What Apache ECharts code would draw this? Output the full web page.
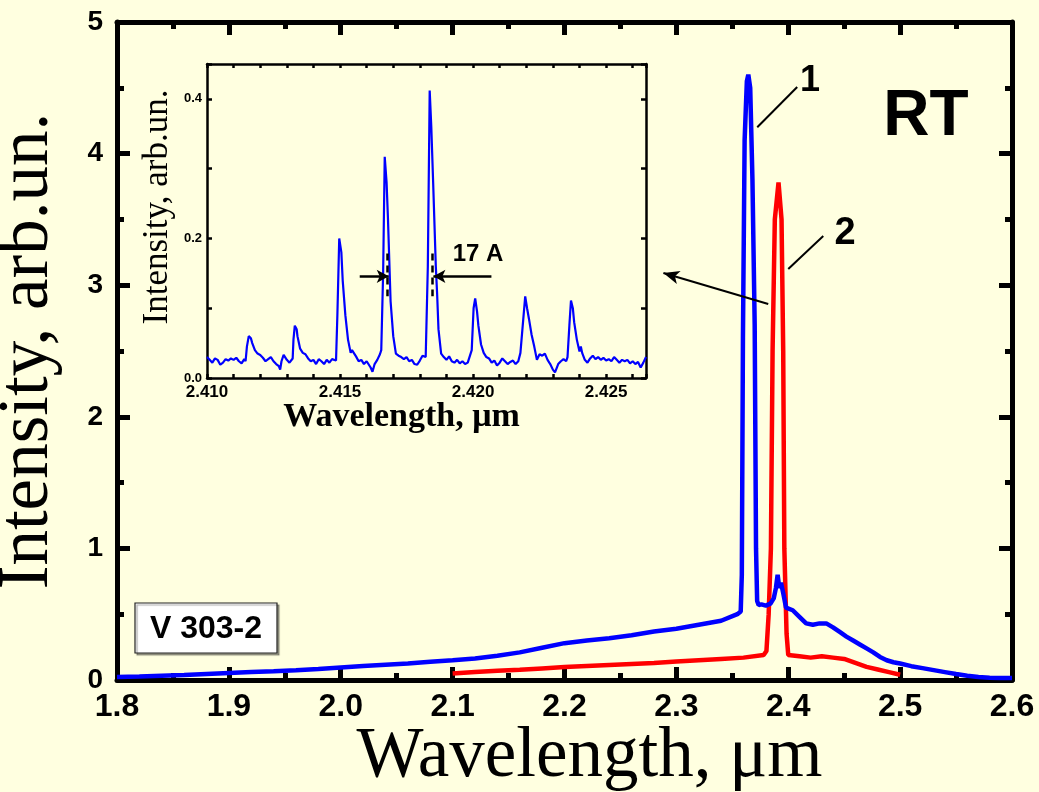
<!DOCTYPE html>
<html lang="en">
<head>
  <meta charset="UTF-8">
  <title>Spectrum V 303-2</title>
  <style>
    html, body { margin: 0; padding: 0; background-color: #ffffe0; }
  </style>
  <script src="https://cdn.jsdelivr.net/npm/echarts@6/dist/echarts.min.js"></script>
</head>
<body>
<div id="chart" style="width: 1039px; height: 792px;"></div>
<script>
  // main spectrum, curve 1 (blue)
  const wavelength1 = [1.80, 1.82, 1.84, 1.86, 1.88, 1.90, 1.92, 1.94, 1.96, 1.98, 2.00, 2.02, 2.04, 2.06, 2.08,
    2.10, 2.12, 2.14, 2.16, 2.18, 2.20, 2.22, 2.24, 2.26, 2.28, 2.30, 2.32, 2.34, 2.3545, 2.3575, 2.3585,
    2.3595, 2.3610, 2.3630, 2.3643, 2.3660, 2.3680, 2.3700, 2.3712, 2.3722, 2.3735, 2.3760, 2.3800, 2.3840,
    2.3870, 2.3890, 2.3905, 2.3920, 2.3935, 2.3955, 2.3980, 2.4040, 2.4100, 2.4160, 2.4220, 2.4280, 2.4340,
    2.4400, 2.4460, 2.4520, 2.4580, 2.4640, 2.4700, 2.4760, 2.4820, 2.4880, 2.4940, 2.5000, 2.5100, 2.5200,
    2.5300, 2.5400, 2.5500, 2.5600, 2.5700, 2.5800, 2.5900, 2.6000]
  const intensity1 = [0.022, 0.026, 0.032, 0.038, 0.046, 0.053, 0.060, 0.066, 0.074, 0.084, 0.095, 0.106, 0.116, 0.126, 0.138,
    0.150, 0.163, 0.185, 0.210, 0.245, 0.280, 0.300, 0.318, 0.340, 0.368, 0.390, 0.420, 0.450, 0.500, 0.520, 0.800,
    2.600, 4.100, 4.550, 4.600, 4.500, 3.800, 2.700, 1.000, 0.600, 0.570, 0.575, 0.565, 0.580,
    0.620, 0.700, 0.800, 0.700, 0.740, 0.660, 0.550, 0.530, 0.480, 0.430, 0.420, 0.430, 0.430,
    0.400, 0.365, 0.330, 0.300, 0.270, 0.240, 0.210, 0.175, 0.150, 0.135, 0.125, 0.105, 0.090,
    0.075, 0.060, 0.045, 0.032, 0.022, 0.018, 0.015, 0.015]

  // main spectrum, curve 2 (red)
  const wavelength2 = [2.10, 2.12, 2.14, 2.16, 2.18, 2.20, 2.22, 2.24, 2.26, 2.28, 2.30, 2.32, 2.34, 2.36, 2.378,
    2.3805, 2.3825, 2.3845, 2.3860, 2.3880, 2.3913, 2.3940, 2.3955, 2.3965, 2.3985, 2.4000, 2.4100, 2.4200,
    2.4300, 2.4400, 2.4500, 2.4600, 2.4700, 2.4800, 2.4900, 2.5000]
  const intensity2 = [0.050, 0.060, 0.070, 0.078, 0.088, 0.098, 0.106, 0.114, 0.122, 0.130, 0.140, 0.150, 0.160, 0.170, 0.190,
    0.220, 0.500, 1.000, 2.500, 3.500, 3.780, 3.500, 2.500, 1.000, 0.350, 0.190, 0.180, 0.170,
    0.180, 0.170, 0.160, 0.130, 0.100, 0.080, 0.060, 0.040]

  // inset: mode structure of curve 1
  const insetWavelength = [2.4100, 2.4101, 2.4102, 2.4103, 2.4104, 2.4105, 2.4106, 2.4107, 2.4108, 2.4109, 2.4110,
    2.4111, 2.4112, 2.4113, 2.4114, 2.41145, 2.4115, 2.41157, 2.41165, 2.4117, 2.4118, 2.4119, 2.4120,
    2.4121, 2.4122, 2.4123, 2.4124, 2.4125, 2.4126, 2.4127, 2.41275, 2.4128, 2.41288, 2.4130, 2.4131,
    2.41322, 2.41325, 2.41330, 2.41337, 2.4134, 2.4135, 2.4136, 2.4137, 2.4138, 2.4139, 2.4140, 2.4141,
    2.4142, 2.4143, 2.4144, 2.4145, 2.4146, 2.4147, 2.41485, 2.41490, 2.41497, 2.41505, 2.4151, 2.4152,
    2.4153, 2.4154, 2.41545, 2.4155, 2.4156, 2.4157, 2.4158, 2.4159, 2.4160, 2.41615, 2.41622, 2.4163,
    2.4164, 2.4165, 2.41655, 2.41662, 2.41668, 2.41675, 2.4168, 2.4169, 2.4170, 2.4171, 2.4172, 2.4173,
    2.4174, 2.4175, 2.4176, 2.4177, 2.4178, 2.4179, 2.4180, 2.4181, 2.41822, 2.41830, 2.41837, 2.41843,
    2.4185, 2.4186, 2.41865, 2.4187, 2.4188, 2.4189, 2.4190, 2.4191, 2.4192, 2.4193, 2.4194, 2.4195,
    2.4196, 2.4197, 2.4198, 2.41995, 2.42002, 2.42008, 2.42015, 2.4202, 2.4203, 2.4204, 2.4205, 2.4206,
    2.4207, 2.4208, 2.4209, 2.4210, 2.4211, 2.4212, 2.4213, 2.4214, 2.4215, 2.4216, 2.4217, 2.42178,
    2.42185, 2.4219, 2.42196, 2.42203, 2.4221, 2.4222, 2.4223, 2.4224, 2.42245, 2.4225, 2.4226, 2.4227,
    2.4228, 2.4229, 2.4230, 2.42308, 2.4232, 2.4233, 2.4234, 2.4235, 2.42355, 2.42362, 2.42368, 2.42375,
    2.4238, 2.4239, 2.4240, 2.42405, 2.4241, 2.4242, 2.4243, 2.4244, 2.4245, 2.4246, 2.4247, 2.4248,
    2.4249, 2.4250, 2.4251, 2.4252, 2.4253, 2.4254, 2.4255, 2.4256, 2.4257, 2.4258, 2.4259, 2.4260,
    2.4261, 2.4262, 2.4263, 2.4264, 2.4265]
  const insetIntensity = [0.030, 0.026, 0.022, 0.028, 0.026, 0.019, 0.022, 0.027, 0.025, 0.028, 0.026,
    0.029, 0.024, 0.021, 0.027, 0.024, 0.045, 0.060, 0.057, 0.050, 0.040, 0.035, 0.033,
    0.029, 0.024, 0.027, 0.030, 0.024, 0.020, 0.017, 0.012, 0.024, 0.033, 0.026, 0.022,
    0.028, 0.055, 0.075, 0.070, 0.060, 0.042, 0.036, 0.034, 0.028, 0.024, 0.026, 0.020,
    0.027, 0.024, 0.020, 0.026, 0.022, 0.027, 0.025, 0.090, 0.200, 0.180, 0.140, 0.090,
    0.055, 0.036, 0.040, 0.038, 0.031, 0.024, 0.026, 0.020, 0.024, 0.015, 0.009, 0.020,
    0.026, 0.034, 0.040, 0.150, 0.317, 0.280, 0.230, 0.110, 0.060, 0.035, 0.032, 0.030,
    0.027, 0.030, 0.024, 0.026, 0.020, 0.019, 0.025, 0.032, 0.030, 0.160, 0.412, 0.360,
    0.280, 0.160, 0.120, 0.070, 0.035, 0.030, 0.026, 0.031, 0.024, 0.022, 0.026, 0.021,
    0.024, 0.020, 0.022, 0.040, 0.100, 0.114, 0.095, 0.075, 0.048, 0.036, 0.030, 0.028,
    0.022, 0.025, 0.018, 0.022, 0.028, 0.024, 0.020, 0.023, 0.025, 0.020, 0.024, 0.036,
    0.036, 0.090, 0.117, 0.100, 0.085, 0.062, 0.045, 0.026, 0.030, 0.034, 0.032, 0.035,
    0.026, 0.020, 0.012, 0.008, 0.020, 0.024, 0.027, 0.024, 0.030, 0.075, 0.111, 0.100,
    0.080, 0.055, 0.038, 0.045, 0.036, 0.026, 0.022, 0.028, 0.032, 0.027, 0.030, 0.026,
    0.029, 0.025, 0.027, 0.024, 0.030, 0.026, 0.022, 0.026, 0.024, 0.026, 0.021, 0.024,
    0.020, 0.023, 0.015, 0.022, 0.030]

  const zip = (xs, ys) => xs.map((x, i) => [x, ys[i]])

  const SANS = '"Liberation Sans", Arial, sans-serif'
  const SERIF = '"Liberation Serif", "Times New Roman", serif'
  const BG = '#ffffe0'

  // one axis of a closed box; mirrored axes get ticks but no labels
  function boxAxis(opts) {
    const lw = opts.lineWidth
    return {
      type: 'value',
      gridIndex: opts.grid,
      position: opts.position,
      min: opts.min,
      max: opts.max,
      interval: opts.interval,
      scale: true,
      axisLine: { show: true, onZero: false, lineStyle: { color: '#000', width: lw } },
      axisTick: { show: true, inside: true, length: opts.tickLen, lineStyle: { color: '#000', width: lw } },
      minorTick: opts.minor
        ? { show: true, splitNumber: opts.minor, length: opts.minorLen, lineStyle: { color: '#000', width: lw } }
        : { show: false },
      splitLine: { show: false },
      minorSplitLine: { show: false },
      axisLabel: opts.label ? opts.label : { show: false },
      name: opts.name || '',
      nameLocation: 'middle',
      nameGap: opts.nameGap || 0,
      nameMoveOverlap: false,
      nameTextStyle: opts.nameStyle || {}
    }
  }

  const mainXLabel = {
    show: true, margin: 11, color: '#000', fontFamily: SANS, fontWeight: 'bold', fontSize: 32,
    formatter: v => v.toFixed(1)
  }
  const mainYLabel = {
    show: true, margin: 14, color: '#000', fontFamily: SANS, fontWeight: 'bold', fontSize: 28,
    formatter: v => v.toFixed(0)
  }
  const insetXLabel = {
    show: true, margin: 6, interval: 0, color: '#000', fontFamily: SANS, fontWeight: 'bold', fontSize: 17,
    formatter: v => (Math.abs(v * 1000 - Math.round(v * 200) * 5) < 1e-6 ? v.toFixed(3) : '')
  }
  const insetYLabel = {
    show: true, margin: 5, interval: 0, color: '#000', fontFamily: SANS, fontWeight: 'bold', fontSize: 13,
    formatter: v => (Math.abs(v * 10 - Math.round(v * 5) * 2) < 1e-6 ? v.toFixed(1) : '')
  }

  const mainX = { grid: 0, min: 1.8, max: 2.6, interval: 0.1, lineWidth: 5, tickLen: 13, minor: 2, minorLen: 7 }
  const mainY = { grid: 0, min: 0, max: 5, interval: 1, lineWidth: 5, tickLen: 13, minor: 2, minorLen: 7 }
  const insetX = { grid: 1, min: 2.41, max: 2.4265, interval: 0.001, lineWidth: 2.5, tickLen: 4 }
  const insetY = { grid: 1, min: 0, max: 0.45, interval: 0.1, lineWidth: 2.5, tickLen: 5 }

  const chart = echarts.init(document.getElementById('chart'))

  const option = {
    backgroundColor: BG,
    animation: false,
    grid: [
      { left: 117, top: 22, width: 895, height: 658, outerBoundsMode: 'none', containLabel: false },
      { left: 207, top: 64, width: 439, height: 314, outerBoundsMode: 'none', containLabel: false }
    ],
    xAxis: [
      boxAxis(Object.assign({}, mainX, {
        position: 'bottom', label: mainXLabel,
        name: 'Wavelength, μm', nameGap: 42,
        nameStyle: { fontFamily: SERIF, fontSize: 71, color: '#000', padding: [0, 0, 0, 50] }
      })),
      boxAxis(Object.assign({}, mainX, { position: 'top' })),
      boxAxis(Object.assign({}, insetX, {
        position: 'bottom', label: insetXLabel,
        name: 'Wavelength, μm', nameGap: 22,
        nameStyle: { fontFamily: SERIF, fontSize: 34, fontWeight: 'bold', color: '#000', padding: [0, 50, 0, 0] }
      })),
      boxAxis(Object.assign({}, insetX, { position: 'top' }))
    ],
    yAxis: [
      boxAxis(Object.assign({}, mainY, {
        position: 'left', label: mainYLabel,
        name: 'Intensity, arb.un.', nameGap: 53,
        nameStyle: { fontFamily: SERIF, fontSize: 71, color: '#000' }
      })),
      boxAxis(Object.assign({}, mainY, { position: 'right' })),
      boxAxis(Object.assign({}, insetY, {
        position: 'left', label: insetYLabel,
        name: 'Intensity, arb.un.', nameGap: 32,
        nameStyle: { fontFamily: SERIF, fontSize: 35, color: '#000', padding: [0, 0, 0, 28] }
      })),
      boxAxis(Object.assign({}, insetY, { position: 'right' }))
    ],
    series: [
      {
        name: '2',
        type: 'line',
        xAxisIndex: 0,
        yAxisIndex: 0,
        data: zip(wavelength2, intensity2),
        showSymbol: false,
        lineStyle: { color: '#ff0000', width: 4.5 },
        z: 2,
        markLine: {
          silent: true,
          symbol: ['none', 'none'],
          label: { show: false },
          lineStyle: { color: '#000', width: 2, type: 'solid' },
          data: [
            [{ coord: [2.4000, 3.123] }, { coord: [2.4313, 3.374] }]
          ]
        }
      },
      {
        name: '1',
        type: 'line',
        xAxisIndex: 0,
        yAxisIndex: 0,
        data: zip(wavelength1, intensity1),
        showSymbol: false,
        lineStyle: { color: '#0000ff', width: 4.5 },
        z: 3,
        markLine: {
          silent: true,
          symbol: ['none', 'none'],
          label: { show: false },
          lineStyle: { color: '#000', width: 2, type: 'solid' },
          data: [
            [{ coord: [2.3723, 4.20] }, { coord: [2.4080, 4.506] }],
            [{ coord: [2.3821, 2.857] }, { coord: [2.2884, 3.093], symbol: 'arrow', symbolSize: [10, 16] }]
          ]
        }
      },
      {
        name: 'inset',
        type: 'line',
        xAxisIndex: 2,
        yAxisIndex: 2,
        data: zip(insetWavelength, insetIntensity),
        showSymbol: false,
        lineStyle: { color: '#0000ff', width: 2.2 },
        z: 3,
        markLine: {
          silent: true,
          symbol: ['none', 'none'],
          label: { show: false },
          lineStyle: { color: '#000', width: 2.5, type: 'solid' },
          data: [
            [{ coord: [2.41574, 0.1457] }, { coord: [2.41683, 0.1457], symbol: 'arrow', symbolSize: [10, 12] }],
            [{ coord: [2.42069, 0.1457] }, { coord: [2.41851, 0.1457], symbol: 'arrow', symbolSize: [10, 12] }],
            [{ coord: [2.41679, 0.1786], lineStyle: { type: [7, 5] } }, { coord: [2.41679, 0.117] }],
            [{ coord: [2.41848, 0.1786], lineStyle: { type: [7, 5] } }, { coord: [2.41848, 0.117] }]
          ]
        }
      }
    ],
    graphic: [
      {
        type: 'text', z: 10,
        style: { text: 'RT', x: 926, y: 117, align: 'center', verticalAlign: 'middle',
          font: 'bold 64px ' + SANS, fill: '#000' }
      },
      {
        type: 'text', z: 10,
        style: { text: '1', x: 810, y: 81, align: 'center', verticalAlign: 'middle',
          font: 'bold 36px ' + SANS, fill: '#000' }
      },
      {
        type: 'text', z: 10,
        style: { text: '2', x: 845, y: 234, align: 'center', verticalAlign: 'middle',
          font: 'bold 38px ' + SANS, fill: '#000' }
      },
      {
        type: 'text', z: 10,
        style: { text: '17 A', x: 478, y: 254, align: 'center', verticalAlign: 'middle',
          font: 'bold 24px ' + SANS, fill: '#000' }
      },
      {
        type: 'rect', z: 9,
        shape: { x: 135, y: 603, width: 142, height: 50 },
        style: { fill: '#ffffff', stroke: '#222', lineWidth: 1.2,
          shadowColor: 'rgba(0,0,0,0.35)', shadowOffsetX: 2, shadowOffsetY: 2, shadowBlur: 1 }
      },
      {
        type: 'text', z: 10,
        style: { text: 'V 303-2', x: 206, y: 629, align: 'center', verticalAlign: 'middle',
          font: 'bold 32px ' + SANS, fill: '#000' }
      }
    ]
  }
  chart.setOption(option)
</script>
</body>
</html>
